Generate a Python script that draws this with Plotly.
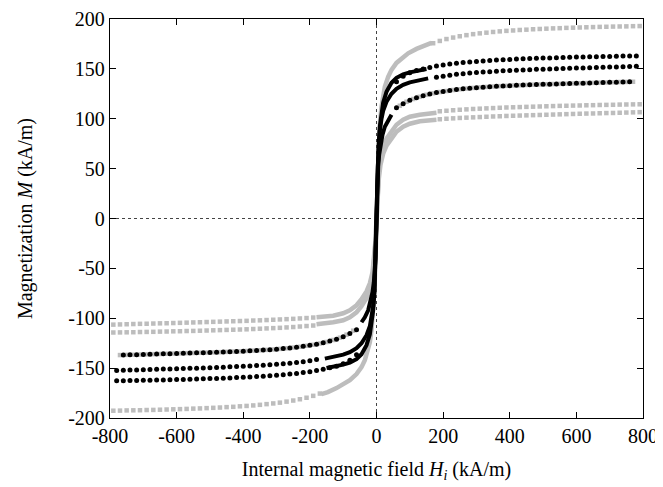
import plotly.graph_objects as go

# ---------------- data ----------------
X_TICKS = [-800, -600, -400, -200, 0, 200, 400, 600, 800]
X_TICK_LABELS = ["-800", "-600", "-400", "-200", "0", "200", "400", "600", "800"]
Y_TICKS = [-200, -150, -100, -50, 0, 50, 100, 150, 200]
Y_TICK_LABELS = ["-200", "-150", "-100", "-50", "0", "50", "100", "150", "200"]

# field grids of the sparse (high field) measurement points
GH_POS = [70, 90, 110, 130, 150, 170, 190, 210, 230, 250, 270, 290, 310, 330, 350, 370, 390,
          410, 430, 450, 470, 490, 510, 530, 550, 570, 590, 610, 630, 650, 670, 690, 710,
          730, 750, 770, 790]
GH_NEG = [-70, -90, -110, -130, -150, -170, -190, -210, -230, -250, -270, -290, -310, -330,
          -350, -370, -390, -410, -430, -450, -470, -490, -510, -530, -550, -570, -590, -610,
          -630, -650, -670, -690, -710, -730, -750, -770, -790]
BH_POS = [60, 80, 100, 120, 140, 160, 180, 200, 220, 240, 260, 280, 300, 320, 340, 360, 380,
          400, 420, 440, 460, 480, 500, 520, 540, 560, 580, 600, 620, 640, 660, 680, 700,
          720, 740, 760, 780]
BH_NEG = [-60, -80, -100, -120, -140, -160, -180, -200, -220, -240, -260, -280, -300, -320,
          -340, -360, -380, -400, -420, -440, -460, -480, -500, -520, -540, -560, -580, -600,
          -620, -640, -660, -680, -700, -720, -740, -760, -780]

# --- gray sample 1 (highest saturation) ---
G1_LINE_H = [-165, -146, -120, -95, -80, -60, -45, -35, -25, -20, -15, -10, -6, -3, 0,
             3, 6, 10, 15, 20, 25, 35, 45, 60, 80, 95, 120, 146, 165]
G1_LINE_M = [-176, -174, -170, -165.6, -162, -156, -149, -142, -132, -124, -112, -95, -70, -40, 0,
             40, 70, 95, 112, 124, 132, 142, 149, 156, 162, 165.6, 170, 174, 176]
G1_POS_M = [175.7, 178.0, 179.9, 181.4, 182.7, 183.8, 184.8, 185.6, 186.3, 187.0, 187.6, 188.1,
            188.5, 189.0, 189.3, 189.7, 190.0, 190.3, 190.6, 190.8, 191.1, 191.3, 191.5, 191.7,
            191.9, 192.1, 192.2, 192.4, 192.5, 192.6, 192.8, 192.9]
G1_NEG_M = [-175.5, -177.8, -179.7, -181.2, -182.5, -183.6, -184.6, -185.4, -186.1, -186.8,
            -187.4, -187.9, -188.3, -188.8, -189.1, -189.5, -189.8, -190.1, -190.4, -190.6,
            -190.9, -191.1, -191.3, -191.5, -191.7, -191.9, -192.0, -192.2, -192.3, -192.4,
            -192.6, -192.7]

# --- gray sample 2 (lowest saturation, two branches) ---
G2_LINE_H = [-180, -160, -130, -100, -80, -60, -45, -30, -20, -12, -7, -3, 0,
             3, 7, 12, 20, 30, 45, 60, 80, 100, 130, 160, 180]
G2U_LINE_M = [-106, -105.5, -104, -102, -99, -94, -88, -80, -72, -60, -45, -25, 0,
              25, 45, 60, 72, 80, 88, 94, 99, 102, 104, 105.5, 106]
G2L_LINE_M = [-99, -98.5, -97.5, -95, -92, -87, -81, -73, -65, -54, -40, -22, 0,
              22, 40, 54, 65, 73, 81, 87, 92, 95, 97.5, 98.5, 99]
G2U_POS_M = [107.5, 108, 108.5, 109, 109.4, 109.8, 110.1, 110.4, 110.7, 111, 111.3, 111.5,
             111.7, 111.9, 112.1, 112.3, 112.5, 112.7, 112.9, 113, 113.2, 113.3, 113.5,
             113.6, 113.8, 113.9, 114, 114.2, 114.3, 114.4, 114.5]
G2U_NEG_M = [-107.3, -107.8, -108.3, -108.8, -109.2, -109.6, -109.9, -110.2, -110.5, -110.8,
             -111.1, -111.3, -111.5, -111.7, -111.9, -112.1, -112.3, -112.5, -112.7, -112.8,
             -113, -113.1, -113.3, -113.4, -113.6, -113.7, -113.8, -114, -114.1, -114.2, -114.3]
G2L_POS_M = [99.5, 100, 100.4, 100.8, 101.1, 101.4, 101.7, 102, 102.3, 102.5, 102.8, 103,
             103.2, 103.4, 103.6, 103.8, 104, 104.2, 104.4, 104.6, 104.8, 105, 105.2, 105.3,
             105.5, 105.7, 105.8, 106, 106.2, 106.4, 106.6]
G2L_NEG_M = [-99.3, -99.8, -100.2, -100.6, -100.9, -101.2, -101.5, -101.8, -102.1, -102.3,
             -102.6, -102.8, -103, -103.2, -103.4, -103.6, -103.8, -104, -104.2, -104.4,
             -104.6, -104.8, -105, -105.1, -105.3, -105.5, -105.6, -105.8, -106, -106.2, -106.4]

# --- gray sample 3 (lies under black sample 3) ---
G3_POS_M = [113, 117, 119.8, 122, 124, 125.5, 126.8, 127.8, 128.8, 129.6, 130.3, 130.9, 131.5,
            131.9, 132.3, 132.7, 133, 133.4, 133.6, 133.9, 134.2, 134.4, 134.6, 134.8, 135,
            135.2, 135.4, 135.6, 135.8, 136, 136.2, 136.4, 136.6, 136.8, 136.9, 137.1]
G3_NEG_M = [-112.5, -116.5, -119.5, -121.8, -123.8, -125.3, -126.6, -127.6, -128.6, -129.4,
            -130.1, -130.7, -131.3, -131.7, -132.1, -132.5, -132.8, -133.2, -133.4, -133.7,
            -134, -134.2, -134.4, -134.6, -134.8, -135, -135.2, -135.4, -135.6, -135.8, -136,
            -136.2, -136.4, -136.6, -136.7, -136.9]

# --- black sample 1 (top) ---
B1_LINE_H = [-150, -125, -100, -80, -60, -45, -30, -20, -15, -10, -6, -4, -2, 0,
             2, 4, 6, 10, 15, 20, 30, 45, 60, 80, 100, 125, 150]
B1_LINE_M = [-149.8, -148.5, -146.5, -144.5, -141, -136, -127, -116, -106, -92, -72, -55, -30, 0,
             30, 55, 72, 92, 106, 116, 127, 136, 141, 144.5, 146.5, 148.5, 149.8]
B1_POS_M = [137, 142.5, 146, 148.3, 150, 151.5, 152.8, 153.9, 154.8, 155.6, 156.3, 156.9, 157.5,
            158, 158.4, 158.8, 159.2, 159.5, 159.8, 160.1, 160.4, 160.6, 160.8, 161, 161.2,
            161.4, 161.6, 161.8, 161.9, 162.1, 162.2, 162.4, 162.5, 162.6, 162.8, 162.9, 163]
B1_NEG_M = [-136.5, -142, -145.6, -148, -149.7, -151.2, -152.5, -153.6, -154.5, -155.3, -156,
            -156.6, -157.2, -157.7, -158.1, -158.5, -158.9, -159.2, -159.5, -159.8, -160.1,
            -160.3, -160.5, -160.7, -160.9, -161.1, -161.3, -161.5, -161.6, -161.8, -161.9,
            -162.1, -162.2, -162.3, -162.5, -162.6, -162.7]

# --- black sample 2 (middle) ---
B2_LINE_H = [-155, -130, -100, -80, -60, -45, -30, -20, -15, -10, -6, -4, -2, 0,
             2, 4, 6, 10, 15, 20, 30, 45, 60, 80, 100, 130, 155]
B2_LINE_M = [-140.5, -139, -136.5, -134, -130, -125, -117, -108, -100, -88, -70, -52, -28, 0,
             28, 52, 70, 88, 100, 108, 117, 125, 130, 134, 136.5, 139, 140.5]
B2_POS_M = [141.5, 142.7, 143.7, 144.5, 145.2, 145.8, 146.3, 146.8, 147.2, 147.6, 148, 148.3,
            148.6, 148.9, 149.2, 149.5, 149.7, 150, 150.2, 150.4, 150.6, 150.8, 151, 151.2,
            151.4, 151.6, 151.8, 152, 152.2, 152.4, 152.6]
B2_NEG_M = [-141.3, -142.5, -143.5, -144.3, -145, -145.6, -146.1, -146.6, -147, -147.4, -147.8,
            -148.1, -148.4, -148.7, -149, -149.3, -149.5, -149.8, -150, -150.2, -150.4, -150.6,
            -150.8, -151, -151.2, -151.4, -151.6, -151.8, -152, -152.2, -152.4]

# --- black sample 3 (lowest black) ---
B3_LINE_H = [-45, -35, -25, -18, -12, -8, -5, -3, -1.5, 0, 1.5, 3, 5, 8, 12, 18, 25, 35, 45]
B3_LINE_M = [-104, -99, -92, -84, -74, -64, -52, -40, -22, 0, 22, 40, 52, 64, 74, 84, 92, 99, 104]
B3_POS_M = [111, 115, 118.5, 121, 123, 124.8, 126.2, 127.3, 128.3, 129.2, 130, 130.6, 131.2,
            131.7, 132.1, 132.5, 132.9, 133.2, 133.5, 133.8, 134, 134.3, 134.5, 134.7, 134.9,
            135.1, 135.3, 135.5, 135.7, 135.9, 136.1, 136.3, 136.5, 136.7, 136.9, 137]
B3_NEG_M = [-111.5, -115.3, -118.6, -121, -122.9, -124.6, -126, -127.1, -128.1, -129, -129.8,
            -130.4, -131, -131.5, -131.9, -132.3, -132.7, -133, -133.3, -133.6, -133.8, -134.1,
            -134.3, -134.5, -134.7, -134.9, -135.1, -135.3, -135.5, -135.7, -135.9, -136.1,
            -136.3, -136.5, -136.7, -136.8]

# ---------------- style ----------------
GRAY = "#bdbdbd"
BLACK = "#000000"
FONT = "Liberation Serif"

fig = go.Figure()


def add_line(h, m, color, width):
    fig.add_trace(go.Scatter(x=h, y=m, mode="lines", line=dict(color=color, width=width),
                             hoverinfo="skip", showlegend=False))


def add_points(h, m, color, symbol, size):
    fig.add_trace(go.Scatter(x=h, y=m, mode="markers",
                             marker=dict(color=color, symbol=symbol, size=size, line=dict(width=0)),
                             hoverinfo="skip", showlegend=False))


# gray samples
add_line(G1_LINE_H, G1_LINE_M, GRAY, 4.5)
add_points(GH_POS[5:] + GH_NEG[5:], G1_POS_M + G1_NEG_M, GRAY, "square", 4.5)
add_line(G2_LINE_H, G2U_LINE_M, GRAY, 4.5)
add_line(G2_LINE_H, G2L_LINE_M, GRAY, 4.5)
add_points(GH_POS[6:] + GH_NEG[6:], G2U_POS_M + G2U_NEG_M, GRAY, "square", 4.5)
add_points(GH_POS[6:] + GH_NEG[6:], G2L_POS_M + G2L_NEG_M, GRAY, "square", 4.5)
add_points(GH_POS[:36] + GH_NEG[:36], G3_POS_M + G3_NEG_M, GRAY, "square", 4.5)

# black samples
add_line(B1_LINE_H, B1_LINE_M, BLACK, 4)
add_points(BH_POS + BH_NEG, B1_POS_M + B1_NEG_M, BLACK, "circle", 5)
add_line(B2_LINE_H, B2_LINE_M, BLACK, 4)
add_points(BH_POS[6:] + BH_NEG[6:], B2_POS_M + B2_NEG_M, BLACK, "circle", 5)
add_line(B3_LINE_H, B3_LINE_M, BLACK, 4)
add_points(BH_POS[:36] + BH_NEG[:36], B3_POS_M + B3_NEG_M, BLACK, "circle", 5)

# dotted zero lines
fig.add_shape(type="line", xref="x", yref="paper", x0=0, x1=0, y0=0, y1=1,
              line=dict(color="#444444", width=1, dash="dot"), layer="below")
fig.add_shape(type="line", xref="paper", yref="y", x0=0, x1=1, y0=0, y1=0,
              line=dict(color="#444444", width=1, dash="dot"), layer="below")

axis_common = dict(showgrid=False, zeroline=False, showline=True, linecolor="black",
                   linewidth=1.3, mirror="ticks", ticks="inside", ticklen=6, tickwidth=1,
                   tickcolor="black", automargin=False,
                   tickfont=dict(family=FONT, size=20, color="black"))

# the page body adds an 8 px offset; margins are chosen so the plot box lands
# at the reference position (x 110..643, y 19..418)
fig.update_layout(
    width=663, height=487,
    margin=dict(l=102, r=28, t=11, b=77),
    plot_bgcolor="white", paper_bgcolor="white",
    font=dict(family=FONT, size=20, color="black"),
    xaxis=dict(range=[-800, 800], tickmode="array", tickvals=X_TICKS, ticktext=X_TICK_LABELS,
               title=dict(text="Internal magnetic field <i>H<sub>i</sub></i> (kA/m)",
                          font=dict(family=FONT, size=20, color="black")),
               **axis_common),
    yaxis=dict(range=[-200, 200], tickmode="array", tickvals=Y_TICKS, ticktext=Y_TICK_LABELS,
               title=dict(text="Magnetization <i>M</i> (kA/m)", standoff=30,
                          font=dict(family=FONT, size=20, color="black")),
               **axis_common),
)

fig.write_html("out.html")
